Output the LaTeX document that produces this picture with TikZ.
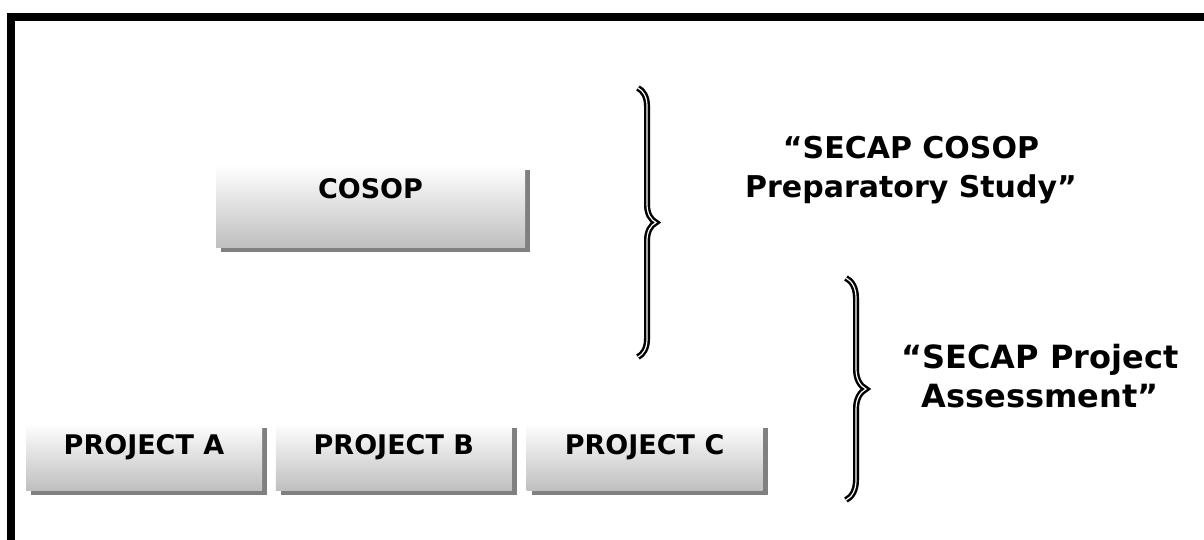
\documentclass[tikz,border=0pt]{standalone}
\usepackage{fontspec}
\setmainfont{DejaVu Sans}
\usetikzlibrary{positioning}
\usetikzlibrary{shadows}
\usetikzlibrary{decorations.pathreplacing}
\tikzset{box/.style = {inner sep = 0, top color = white, bottom color = gray!50,
                       drop shadow = {shadow xshift = 2.5pt, shadow yshift = -2.5pt,
                                      fill = gray, opacity = 1},
                       font = \bfseries\fontsize{13.5}{16}\selectfont}}
\tikzset{projbox/.style = {box, minimum width = 118pt, minimum height = 33.5pt,
                           text height = 15.5pt, text depth = 18pt}}
\tikzset{bracelabel/.style = {align = center, font = \bfseries\fontsize{#1}{19.5}\selectfont}}
\tikzset{brace line/.style = {decoration = {brace, amplitude = #1}, decorate,
                              line width = 1.2pt, double = white, double distance = 0.6pt}}
\tikzset{brace shadow/.style = {decoration = {brace, amplitude = #1}, decorate,
                                line width = 3pt, gray!60, xshift = 1.6pt}}
\tikzset{frame/.style = {line width = 4pt}}

\begin{document}
\begin{tikzpicture}[x = 0.5pt, y = -0.5pt]
          \useasboundingbox (0, 0) rectangle (1204, 540);
          \draw [frame] (11, 540) -- (11, 17) -- (1204, 17);
          \node [box, minimum width = 154.5pt, minimum height = 41pt,
                 text height = 16.5pt, text depth = 24.5pt] (cosop) at (370.5, 206) {COSOP};
          \node [projbox] (projA) at (144, 456.5) {PROJECT A};
          \node [projbox, right = 6.5pt of projA] (projB) {PROJECT B};
          \node [projbox, right = 7pt of projB] (projC) {PROJECT C};
          \coordinate (studyTop) at (638, 88);
          \coordinate (studyBot) at (638, 357);
          \coordinate (assessTop) at (846, 278);
          \coordinate (assessBot) at (846, 500);
          \draw [brace shadow = 9pt] (studyTop) -- (studyBot);
          \draw [brace line = 9pt] (studyTop) -- (studyBot);
          \draw [brace shadow = 10pt] (assessTop) -- (assessBot);
          \draw [brace line = 10pt] (assessTop) -- (assessBot);
          \node [bracelabel = 15] (study) at (911, 170) {“SECAP COSOP\\Preparatory Study”};
          \node [bracelabel = 16] (assess) at (1040, 376) {“SECAP Project\\Assessment”};
        \end{tikzpicture}
\end{document}
